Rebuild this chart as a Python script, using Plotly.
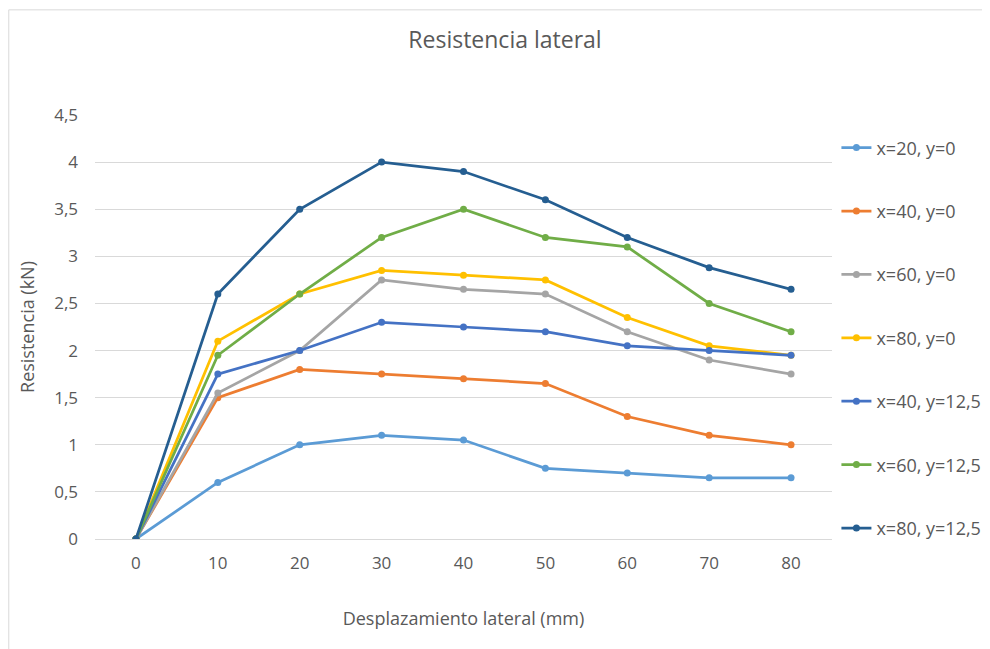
import plotly.graph_objects as go

desplazamiento = ["0", "10", "20", "30", "40", "50", "60", "70", "80"]

series_names = ["x=20, y=0", "x=40, y=0", "x=60, y=0", "x=80, y=0",
                "x=40, y=12,5", "x=60, y=12,5", "x=80, y=12,5"]

x20_y0 = [0, 0.6, 1.0, 1.1, 1.05, 0.75, 0.7, 0.65, 0.65]
x40_y0 = [0, 1.5, 1.8, 1.75, 1.7, 1.65, 1.3, 1.1, 1.0]
x60_y0 = [0, 1.55, 2.0, 2.75, 2.65, 2.6, 2.2, 1.9, 1.75]
x80_y0 = [0, 2.1, 2.6, 2.85, 2.8, 2.75, 2.35, 2.05, 1.95]
x40_y125 = [0, 1.75, 2.0, 2.3, 2.25, 2.2, 2.05, 2.0, 1.95]
x60_y125 = [0, 1.95, 2.6, 3.2, 3.5, 3.2, 3.1, 2.5, 2.2]
x80_y125 = [0, 2.6, 3.5, 4.0, 3.9, 3.6, 3.2, 2.88, 2.65]

colores = ["#5B9BD5", "#ED7D31", "#A5A5A5", "#FFC000", "#4472C4", "#70AD47", "#255E91"]

all_series = [x20_y0, x40_y0, x60_y0, x80_y0, x40_y125, x60_y125, x80_y125]

fig = go.Figure()
for i, (name, vals) in enumerate(zip(series_names, all_series)):
    fig.add_trace(go.Scatter(
        x=desplazamiento, y=vals, name=name, mode="lines+markers",
        line=dict(color=colores[i], width=2.75),
        marker=dict(color=colores[i], size=7),
        legendgroup=str(i),
    ))

font_c = "#595959"
# page body has an 8px margin, so margins are shifted by 8
fig.update_layout(
    width=990, height=649,
    font=dict(family="Open Sans, sans-serif", size=16, color=font_c),
    paper_bgcolor="white", plot_bgcolor="white",
    separators=", ",
    margin=dict(l=87, r=166, t=107, b=118, autoexpand=False),
    title=dict(text="Resistencia lateral", x=0.502, xref="container", xanchor="center",
               y=0.951, yanchor="middle", font=dict(size=23, color=font_c)),
    legend=dict(x=1.006, y=0.966, xanchor="left", yanchor="top",
                tracegroupgap=37, font=dict(size=18, color=font_c)),
    showlegend=True,
)
fig.update_xaxes(type="category", range=[-0.5, 8.5], showgrid=False, showline=False,
                 ticks="", ticklabelstandoff=12,
                 title=dict(text="Desplazamiento lateral (mm)", standoff=39,
                            font=dict(size=18, color=font_c)),
                 tickfont=dict(size=17, color=font_c))
fig.update_yaxes(range=[0, 4.5], dtick=0.5, gridcolor="#D9D9D9", gridwidth=1,
                 zeroline=True, zerolinecolor="#D9D9D9", zerolinewidth=1,
                 showline=False, ticks="", ticklabelstandoff=16,
                 title=dict(text="Resistencia (kN)", standoff=14,
                            font=dict(size=18, color=font_c)),
                 tickfont=dict(size=17, color=font_c))
fig.add_shape(type="rect", xref="paper", yref="paper",
              x0=-0.117, x1=2, y0=-1, y1=1.248,
              line=dict(color="#D9D9D9", width=1), layer="below")

fig.write_html("out.html")
